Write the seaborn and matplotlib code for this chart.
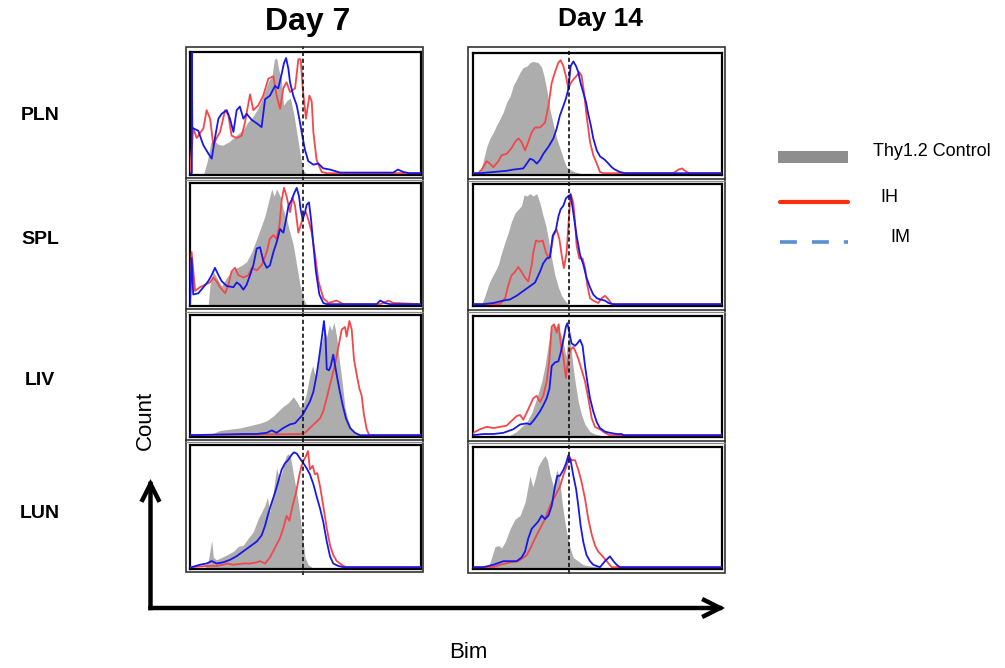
import matplotlib
matplotlib.use("Agg")
import matplotlib.pyplot as plt
import seaborn as sns
import pandas as pd
from matplotlib.patches import Rectangle, FancyArrowPatch
from matplotlib.lines import Line2D

# ---------------- data (Bim intensity in % of axis range, count in % of panel max) -------------
DAYS = ["Day 7", "Day 14"]
TISSUES = ["PLN", "SPL", "LIV", "LUN"]
LEGEND_LABELS = ["Thy1.2 Control", "IH", "IM"]
THRESHOLDS = {"Day 7": 49.0, "Day 14": 38.6}

# Day 7 PLN
D7_PLN_CTRL_X = [6, 7.5, 9, 10, 12, 14, 17, 20, 23, 25, 27, 29, 31, 32.5, 34, 35.5, 36.5, 37.5, 38.5, 39.5, 40.5, 42, 43.5, 45, 46.5, 48, 49, 50]
D7_PLN_CTRL_Y = [0, 10, 25, 28, 24, 23, 26, 31, 36, 42, 46, 52, 60, 68, 76, 80, 94, 95, 85, 78, 56, 60, 62, 48, 30, 12, 3, 0]
D7_PLN_IH_X = [1.4, 2.9, 5.8, 7.2, 8.7, 10.1, 11.5, 13.0, 15.2, 16.6, 18.0, 20.2, 22.4, 23.8, 26.0, 27.4, 29.6, 31.7, 33.9, 36.1, 37.5, 39.0, 40.4, 41.8, 43.3, 45.5, 46.9, 47.9, 48.8, 50.2, 51.7, 52.7, 53.4, 54.8, 57.0, 59.2, 100]
D7_PLN_IH_Y = [37, 29, 37, 52, 45, 23, 29, 34, 52, 48, 31, 29, 31, 42, 65, 52, 56, 64, 78, 80, 64, 53, 70, 75, 67, 70, 94, 94, 70, 45, 64, 59, 34, 11, 1, 0, 0]
D7_PLN_IM_X = [0.8, 0.8, 1.0, 1.4, 3.6, 4.3, 5.8, 8.0, 9.4, 10.8, 12.3, 13.7, 15.9, 17.3, 18.8, 20.2, 21.6, 23.1, 24.5, 26.7, 29.0, 31.0, 32.5, 34.6, 36.8, 38.2, 39.7, 40.7, 41.6, 42.6, 43.3, 44.7, 46.2, 47.6, 48.8, 49.8, 51.2, 53.4, 55.5, 57.7, 60.6, 65.0, 88.0, 90.0, 92.3, 95.0, 100]
D7_PLN_IM_Y = [0, 100, 37, 37, 35, 31, 23, 16, 12, 29, 45, 49, 52, 45, 34, 52, 55, 45, 49, 44, 41, 38, 61, 64, 72, 70, 82, 91, 95, 86, 75, 64, 56, 42, 29, 19, 10, 7, 8, 4, 3, 0.5, 0.5, 3, 1, 0, 0]

# Day 7 SPL
D7_SPL_CTRL_X = [7.9, 8.7, 10.1, 11.5, 13.7, 15.9, 18.0, 20.2, 22.4, 24.5, 26.7, 28.9, 31.0, 32.5, 33.9, 35.4, 36.4, 37.5, 39.0, 40.4, 41.8, 43.3, 44.7, 46.2, 47.6, 49.0, 50.2]
D7_SPL_CTRL_Y = [0, 16, 27, 22, 15, 22, 27, 30, 32, 35, 43, 54, 65, 73, 84, 95, 89, 95, 89, 78, 70, 59, 49, 32, 16, 5, 0]
D7_SPL_IH_X = [0.7, 2.2, 4.3, 6.5, 8.7, 10.1, 11.5, 13.0, 15.2, 16.6, 18.0, 19.5, 20.9, 23.1, 25.3, 26.7, 28.9, 31.0, 33.2, 34.6, 36.1, 37.5, 38.7, 39.7, 40.7, 41.8, 43.3, 44.4, 45.5, 46.9, 47.9, 49.1, 50.2, 51.2, 52.7, 54.1, 55.6, 57.7, 59.9, 63.5, 66.4, 82.3, 83.7, 85.9, 88.0, 100]
D7_SPL_IH_Y = [43, 11, 14, 16, 18, 22, 19, 14, 9, 16, 27, 30, 24, 22, 24, 30, 28, 32, 43, 54, 57, 54, 65, 86, 96, 89, 76, 88, 81, 59, 65, 73, 76, 70, 59, 41, 19, 5, 1, 3, 0, 0, 1, 3, 1, 0]
D7_SPL_IM_X = [0.7, 1.4, 3.6, 5.8, 7.9, 9.4, 10.8, 12.3, 13.7, 15.9, 18.8, 20.2, 21.6, 23.1, 24.5, 26.0, 27.4, 28.9, 30.3, 31.7, 33.2, 34.6, 36.1, 37.5, 39.0, 40.4, 41.6, 42.6, 44.0, 45.2, 46.2, 47.2, 47.9, 48.8, 49.8, 50.5, 51.5, 52.4, 53.4, 54.5, 56.0, 57.7, 59.2, 80.8, 82.3, 84.4, 86.6, 100]
D7_SPL_IM_Y = [38, 8, 9, 14, 19, 24, 30, 24, 19, 15, 14, 18, 16, 12, 16, 24, 32, 46, 47, 36, 30, 32, 43, 51, 62, 59, 70, 81, 86, 92, 96, 89, 78, 70, 76, 82, 84, 70, 49, 27, 8, 1, 0, 0, 3, 1, 0, 0]

# Day 7 LIV
D7_LIV_CTRL_X = [9.4, 13.0, 17.3, 21.6, 26.0, 30.3, 33.2, 36.1, 38.2, 40.4, 42.6, 44.7, 46.2, 47.6, 48.8, 50.2, 51.9, 53.1, 54.1, 55.1, 56.3, 57.4, 58.4, 59.2, 60.3, 61.3, 62.3, 63.5, 64.6, 65.7, 67.1, 68.5, 70.0, 72.2, 73.6]
D7_LIV_CTRL_Y = [1, 4, 5, 6, 8, 10, 12, 16, 20, 24, 27, 32, 28, 23, 25, 33, 50, 58, 50, 58, 71, 80, 88, 82, 92, 87, 94, 82, 63, 47, 23, 12, 5, 1, 0]
D7_LIV_IH_X = [0, 47.6, 49.8, 51.9, 54.1, 56.3, 57.7, 59.2, 60.6, 62.3, 63.5, 64.6, 65.7, 67.1, 67.8, 69.0, 70.0, 71.0, 72.2, 73.3, 74.3, 75.3, 76.5, 77.6, 100]
D7_LIV_IH_Y = [0, 1, 2, 6, 10, 14, 20, 31, 42, 55, 66, 77, 88, 90, 82, 95, 88, 63, 50, 39, 33, 17, 5, 0, 0]
D7_LIV_IM_X = [23.1, 28.9, 33.2, 35.4, 37.5, 40.4, 43.3, 45.5, 46.9, 48.8, 50.5, 51.9, 53.4, 54.8, 56.0, 57.0, 58.0, 58.7, 59.2, 60.2, 61.0, 62.0, 62.8, 63.8, 64.9, 66.1, 67.5, 69.3, 71.4, 73.6]
D7_LIV_IM_Y = [1, 1, 2, 4, 2, 6, 9, 10, 13, 17, 23, 28, 36, 50, 66, 80, 95, 80, 55, 54, 58, 67, 58, 47, 36, 25, 14, 6, 2, 0]

# Day 7 LUN
D7_LUN_CTRL_X = [6.5, 7.9, 9.4, 10.1, 11.5, 13.7, 15.9, 18.8, 20.9, 23.1, 25.3, 27.4, 29.6, 31.0, 32.5, 33.5, 34.6, 35.8, 36.8, 37.5, 38.7, 39.7, 40.7, 41.6, 42.6, 43.6, 44.7, 45.9, 46.9, 47.6, 48.8, 49.8, 51.2, 52.7]
D7_LUN_CTRL_Y = [0, 5, 22, 8, 6, 8, 10, 13, 17, 18, 24, 29, 40, 45, 51, 57, 45, 58, 72, 81, 72, 77, 85, 91, 93, 89, 77, 64, 53, 42, 24, 8, 2, 0]
D7_LUN_IH_X = [0.7, 7.2, 11.5, 14.4, 15.9, 18.8, 23.1, 26.0, 28.9, 30.3, 32.5, 34.6, 36.8, 39.0, 40.4, 41.8, 43.0, 44.4, 45.9, 47.3, 48.3, 49.4, 50.2, 51.1, 51.9, 53.1, 54.1, 55.1, 56.3, 57.7, 59.2, 60.6, 62.0, 63.5, 66.4, 67.8]
D7_LUN_IH_Y = [0, 1, 1, 2, 3, 2, 3, 3, 4, 5, 3, 8, 16, 24, 32, 42, 38, 50, 61, 75, 83, 88, 91, 95, 80, 83, 76, 77, 66, 50, 32, 18, 10, 5, 1, 0]
D7_LUN_IM_X = [0.7, 4.3, 7.2, 9.4, 11.5, 14.4, 17.3, 20.2, 23.1, 26.0, 28.9, 31.0, 32.5, 33.9, 35.4, 36.8, 38.2, 39.7, 41.1, 42.6, 44.0, 45.0, 46.2, 47.6, 49.1, 50.5, 51.9, 53.4, 54.8, 56.3, 57.7, 59.2, 60.6, 62.0, 64.2, 66.4]
D7_LUN_IM_Y = [0, 2, 3, 5, 3, 4, 6, 9, 13, 17, 21, 26, 34, 44, 53, 61, 70, 80, 85, 88, 92, 94, 93, 89, 85, 81, 76, 68, 58, 48, 37, 21, 9, 3, 1, 0]

# Day 14 PLN
D14_PLN_CTRL_X = [2.8, 4.1, 5.5, 6.8, 8.2, 9.5, 10.8, 12.2, 13.5, 14.9, 16.2, 17.5, 18.9, 20.2, 21.6, 22.9, 24.2, 26.2, 27.6, 28.5, 29.6, 30.9, 32.3, 33.6, 34.9, 36.3, 37.6, 39.0, 41.0, 43.0]
D14_PLN_CTRL_Y = [0, 10, 22, 29, 34, 40, 45, 51, 59, 64, 73, 78, 84, 88, 89, 92, 93, 92, 88, 81, 70, 53, 40, 29, 21, 12, 5, 3, 1, 0]
D14_PLN_IH_X = [2.1, 3.5, 5.5, 6.8, 8.2, 10.2, 11.5, 13.5, 15.5, 16.9, 18.2, 19.5, 20.9, 22.2, 23.6, 24.9, 26.9, 28.9, 30.3, 31.6, 32.9, 34.3, 35.2, 36.3, 37.3, 38.3, 39.2, 40.3, 41.6, 42.7, 43.6, 44.6, 45.6, 47.0, 48.3, 49.7, 51.0, 52.3, 80.5, 82.5, 83.9, 85.8, 87.1, 100]
D14_PLN_IH_Y = [0, 3, 10, 8, 5, 10, 15, 16, 21, 26, 29, 26, 19, 26, 34, 38, 38, 42, 56, 75, 84, 92, 94, 89, 81, 70, 75, 78, 81, 84, 81, 67, 48, 26, 15, 8, 1, 0, 0, 3, 4, 1, 0, 0]
D14_PLN_IM_X = [2.8, 8.2, 13.5, 16.2, 20.2, 21.6, 22.9, 24.2, 25.6, 26.9, 28.2, 30.3, 32.3, 33.6, 34.9, 36.3, 37.3, 38.3, 39.2, 40.3, 41.4, 42.3, 43.2, 44.3, 45.4, 46.3, 47.3, 48.3, 49.7, 51.0, 53.0, 54.4, 55.7, 57.0, 59.0, 61.0]
D14_PLN_IM_Y = [0, 1, 2, 3, 4, 8, 12, 11, 8, 11, 16, 22, 29, 37, 48, 56, 62, 70, 89, 93, 89, 84, 75, 67, 59, 49, 40, 29, 19, 14, 11, 8, 5, 3, 1, 0]

# Day 14 SPL
D14_SPL_CTRL_X = [3.5, 4.8, 6.2, 7.5, 8.8, 10.2, 11.5, 12.9, 14.2, 15.5, 16.9, 18.2, 19.5, 20.5, 21.6, 22.9, 24.2, 25.6, 26.9, 28.2, 29.3, 30.3, 31.6, 32.9, 34.3, 35.6, 36.9, 38.3]
D14_SPL_CTRL_Y = [0, 7, 16, 22, 27, 33, 43, 52, 60, 69, 76, 79, 82, 91, 90, 92, 90, 92, 84, 73, 65, 54, 38, 24, 14, 7, 3, 0]
D14_SPL_IH_X = [10.8, 12.9, 14.2, 15.5, 16.9, 18.2, 19.5, 20.9, 22.2, 23.6, 24.2, 25.3, 26.6, 28.0, 29.3, 30.3, 31.2, 32.3, 33.6, 34.7, 35.6, 36.5, 37.6, 38.3, 39.2, 40.3, 41.0, 41.6, 42.7, 44.0, 45.0, 45.9, 47.0, 48.3, 50.3, 51.7, 53.0, 54.4, 55.7]
D14_SPL_IH_Y = [0, 5, 16, 24, 27, 31, 27, 22, 19, 33, 43, 53, 52, 53, 43, 38, 43, 57, 62, 54, 41, 30, 43, 65, 92, 84, 68, 49, 38, 38, 30, 16, 5, 3, 1, 5, 7, 4, 0]
D14_SPL_IM_X = [4.1, 8.2, 12.2, 14.9, 17.5, 20.2, 22.9, 24.9, 26.9, 28.2, 29.6, 30.9, 32.0, 33.3, 34.3, 35.2, 36.3, 37.3, 38.3, 39.2, 40.3, 41.6, 43.0, 44.3, 45.6, 47.0, 48.3, 49.7, 51.0, 53.0, 54.4, 56.4]
D14_SPL_IM_Y = [0, 1, 3, 4, 7, 11, 15, 18, 27, 34, 38, 39, 57, 62, 73, 79, 82, 88, 90, 91, 76, 57, 41, 33, 22, 14, 8, 5, 4, 3, 1, 0]

# Day 14 LIV
D14_LIV_CTRL_X = [14.9, 17.5, 19.5, 21.6, 23.6, 25.6, 27.6, 28.9, 30.3, 31.2, 32.3, 33.6, 34.7, 35.6, 36.5, 37.3, 38.3, 39.0, 40.0, 41.0, 42.3, 43.6, 45.0, 47.0, 49.0, 51.0]
D14_LIV_CTRL_Y = [0, 3, 7, 11, 19, 31, 45, 58, 77, 88, 93, 91, 87, 83, 75, 66, 83, 80, 61, 45, 28, 17, 9, 3, 1, 0]
D14_LIV_IH_X = [0.1, 2.8, 5.5, 8.2, 10.8, 13.5, 15.5, 17.5, 18.9, 20.2, 21.6, 22.9, 24.2, 25.6, 26.9, 28.2, 29.6, 30.7, 31.6, 32.5, 33.6, 34.4, 35.2, 36.3, 37.3, 38.3, 39.2, 40.3, 41.4, 42.3, 43.6, 45.0, 46.3, 47.7, 49.0, 51.0, 53.0, 55.0]
D14_LIV_IH_Y = [2, 5, 7, 6, 7, 8, 12, 16, 17, 13, 19, 25, 31, 33, 28, 33, 45, 64, 91, 93, 86, 93, 77, 66, 48, 64, 72, 74, 69, 64, 55, 45, 31, 14, 7, 5, 2, 0]
D14_LIV_IM_X = [0.1, 4.1, 8.2, 12.2, 16.2, 18.9, 21.6, 22.9, 24.2, 25.6, 26.9, 28.2, 29.6, 30.7, 31.6, 32.9, 34.3, 35.2, 36.3, 37.3, 37.9, 38.7, 39.6, 41.0, 41.9, 43.0, 44.0, 45.0, 45.9, 47.0, 48.3, 49.7, 51.0, 53.0, 55.0, 57.7, 59.7, 60.4]
D14_LIV_IM_Y = [0, 1, 1, 2, 5, 9, 10, 9, 12, 16, 20, 25, 31, 39, 58, 61, 62, 69, 80, 91, 94, 86, 77, 75, 77, 80, 75, 58, 45, 31, 20, 11, 6, 3, 2, 1, 1, 0]

# Day 14 LUN
D14_LUN_CTRL_X = [6.2, 7.5, 8.8, 10.2, 11.5, 12.9, 14.9, 16.9, 18.9, 20.9, 22.9, 24.0, 24.9, 26.2, 27.6, 28.9, 29.9, 30.9, 32.3, 33.6, 34.7, 35.6, 36.5, 37.6, 39.0, 40.3, 42.3, 44.3, 47.0, 51.0]
D14_LUN_CTRL_Y = [0, 8, 17, 18, 16, 21, 32, 40, 43, 54, 76, 67, 73, 84, 89, 93, 89, 78, 67, 81, 76, 57, 43, 29, 16, 8, 5, 2, 1, 0]
D14_LUN_IH_X = [0.1, 8.2, 10.8, 14.9, 18.2, 20.2, 21.6, 23.6, 24.9, 26.9, 28.9, 30.9, 32.9, 34.9, 36.5, 37.6, 38.7, 39.6, 41.0, 42.3, 43.6, 45.0, 46.3, 47.7, 49.0, 50.3, 52.1, 53.7, 55.7]
D14_LUN_IH_Y = [0, 0, 2, 4, 5, 8, 10, 18, 24, 32, 40, 51, 59, 67, 78, 84, 92, 89, 89, 81, 71, 57, 40, 27, 18, 13, 9, 5, 0]
D14_LUN_IM_X = [4.1, 8.2, 12.2, 14.9, 17.5, 19.5, 20.9, 22.2, 23.6, 24.9, 26.2, 27.6, 28.9, 30.3, 31.6, 32.9, 33.9, 34.9, 36.3, 37.3, 38.3, 39.2, 40.3, 41.4, 42.3, 43.2, 44.3, 45.6, 47.0, 48.3, 51.0, 53.0, 55.0, 56.4, 57.7, 59.0]
D14_LUN_IM_Y = [0, 2, 5, 5, 5, 8, 13, 24, 32, 35, 38, 43, 40, 43, 51, 67, 76, 76, 81, 86, 93, 89, 76, 65, 51, 35, 21, 10, 5, 2, 0, 5, 9, 5, 2, 0]

PANELS = {
    ("Day 7", "PLN"): (D7_PLN_CTRL_X, D7_PLN_CTRL_Y, D7_PLN_IH_X, D7_PLN_IH_Y, D7_PLN_IM_X, D7_PLN_IM_Y),
    ("Day 7", "SPL"): (D7_SPL_CTRL_X, D7_SPL_CTRL_Y, D7_SPL_IH_X, D7_SPL_IH_Y, D7_SPL_IM_X, D7_SPL_IM_Y),
    ("Day 7", "LIV"): (D7_LIV_CTRL_X, D7_LIV_CTRL_Y, D7_LIV_IH_X, D7_LIV_IH_Y, D7_LIV_IM_X, D7_LIV_IM_Y),
    ("Day 7", "LUN"): (D7_LUN_CTRL_X, D7_LUN_CTRL_Y, D7_LUN_IH_X, D7_LUN_IH_Y, D7_LUN_IM_X, D7_LUN_IM_Y),
    ("Day 14", "PLN"): (D14_PLN_CTRL_X, D14_PLN_CTRL_Y, D14_PLN_IH_X, D14_PLN_IH_Y, D14_PLN_IM_X, D14_PLN_IM_Y),
    ("Day 14", "SPL"): (D14_SPL_CTRL_X, D14_SPL_CTRL_Y, D14_SPL_IH_X, D14_SPL_IH_Y, D14_SPL_IM_X, D14_SPL_IM_Y),
    ("Day 14", "LIV"): (D14_LIV_CTRL_X, D14_LIV_CTRL_Y, D14_LIV_IH_X, D14_LIV_IH_Y, D14_LIV_IM_X, D14_LIV_IM_Y),
    ("Day 14", "LUN"): (D14_LUN_CTRL_X, D14_LUN_CTRL_Y, D14_LUN_IH_X, D14_LUN_IH_Y, D14_LUN_IM_X, D14_LUN_IM_Y),
}

# ---------------- style ----------------
sns.set_theme(style="white")
plt.rcParams["font.family"] = ["Liberation Sans", "DejaVu Sans"]
plt.rcParams["text.color"] = "black"
plt.rcParams["lines.scale_dashes"] = False

GRAY = "#adadad"
RED = "#f2474b"
BLUE = "#1818e8"

W, H = 1005, 668
fig = plt.figure(figsize=(W / 100, H / 100), dpi=100)
fig.patch.set_facecolor("white")


def fx(x):
    return x / W


def fy(y):
    return 1 - y / H


COL_X = {"Day 7": (190, 421), "Day 14": (473, 722)}
ROW_Y = {"Day 7": [(52, 175), (183, 306), (315, 437), (445, 569)],
         "Day 14": [(53, 175), (184, 306), (316, 437), (447, 569)]}
FRAME = {"Day 7": (186, 47, 423, 572), "Day 14": (468, 47, 725, 573)}
SEPS = {"Day 7": [179, 310.5, 441], "Day 14": [179.5, 311, 442]}


def to_full_range(xs, ys):
    xs, ys = list(xs), list(ys)
    if xs[0] > 0:
        xs, ys = [0] + xs, [0] + ys
    if xs[-1] < 100:
        xs, ys = xs + [100], ys + [0]
    return pd.DataFrame({"Bim": xs, "Count": ys})


# column frames and row separators
for day in DAYS:
    l, t, r, b = FRAME[day]
    fig.add_artist(Rectangle((fx(l), fy(b)), fx(r) - fx(l), (b - t) / H, transform=fig.transFigure,
                             fill=False, edgecolor="#333333", lw=1.2))
    for ys in SEPS[day]:
        fig.add_artist(Line2D([fx(l), fx(r)], [fy(ys - 1), fy(ys - 1)], transform=fig.transFigure,
                              color="#222222", lw=1.1))
        fig.add_artist(Line2D([fx(l), fx(r)], [fy(ys + 1.2), fy(ys + 1.2)], transform=fig.transFigure,
                              color="#888888", lw=0.9))

for day in DAYS:
    l, r = COL_X[day]
    for (t, b), tissue in zip(ROW_Y[day], TISSUES):
        ax = fig.add_axes([fx(l), fy(b), fx(r) - fx(l), (b - t) / H])
        cx, cy, ihx, ihy, imx, imy = PANELS[(day, tissue)]
        ax.fill_between(cx, cy, -2, color=GRAY, lw=0, zorder=1)
        sns.lineplot(data=to_full_range(ihx, ihy), x="Bim", y="Count", ax=ax, color=RED, lw=1.3,
                     estimator=None, sort=False, zorder=3)
        sns.lineplot(data=to_full_range(imx, imy), x="Bim", y="Count", ax=ax, color=BLUE, lw=1.3,
                     estimator=None, sort=False, zorder=4)
        ax.axvline(THRESHOLDS[day], ymin=-0.045, ymax=1.045, clip_on=False, color="#111111",
                   ls=(0, (3, 2)), lw=1.2, zorder=6)
        ax.set_xlim(0, 100)
        ax.set_ylim(-1.5, 100)
        ax.set_xticks([])
        ax.set_yticks([])
        ax.set_xlabel("")
        ax.set_ylabel("")
        ax.set_facecolor("white")
        for s in ax.spines.values():
            s.set_visible(True)
            s.set_color("black")
            s.set_linewidth(1.6)

# titles and row labels
fig.text(fx(308), fy(22), DAYS[0], ha="center", va="center", fontsize=23, fontweight="bold", color="black")
fig.text(fx(600), fy(19), DAYS[1], ha="center", va="center", fontsize=19, fontweight="bold", color="black")
for tissue, yy in zip(TISSUES, [115, 240, 380, 513]):
    fig.text(fx(40), fy(yy), tissue, ha="center", va="center", fontsize=14, fontweight="bold", color="black")

# legend (drawn as in the original slide)
fig.add_artist(Rectangle((fx(778), fy(163)), fx(848) - fx(778), 12 / H, transform=fig.transFigure,
                         facecolor="#8e8e8e", edgecolor="none"))
fig.add_artist(Line2D([fx(780), fx(848)], [fy(202), fy(202)], transform=fig.transFigure,
                      color="#ff2d10", lw=3))
fig.add_artist(Line2D([fx(780), fx(848)], [fy(242), fy(242)], transform=fig.transFigure,
                      color="#5b8fd1", lw=2.6, dashes=(12.2, 10.8), dash_capstyle="butt"))
fig.text(fx(873), fy(151), LEGEND_LABELS[0], ha="left", va="center", fontsize=13, color="black")
fig.text(fx(880), fy(197), LEGEND_LABELS[1], ha="left", va="center", fontsize=13, color="black")
fig.text(fx(890), fy(238), LEGEND_LABELS[2], ha="left", va="center", fontsize=13, color="black")

# axis arrows
corner = (fx(150.5), fy(608))
for tip in [(fx(150.5), fy(479)), (fx(725), fy(608))]:
    fig.add_artist(FancyArrowPatch(corner, tip, transform=fig.transFigure,
                                   arrowstyle="->,head_length=1.15,head_width=0.58",
                                   mutation_scale=10, lw=3.2, color="black",
                                   shrinkA=0, shrinkB=0, capstyle="projecting", joinstyle="miter"))
fig.text(fx(145), fy(420), "Count", ha="center", va="center", rotation=90, fontsize=16, color="black")
fig.text(fx(468), fy(652), "Bim", ha="center", va="center", fontsize=16, color="black")

fig.savefig("out.png", dpi=100, facecolor="white")
